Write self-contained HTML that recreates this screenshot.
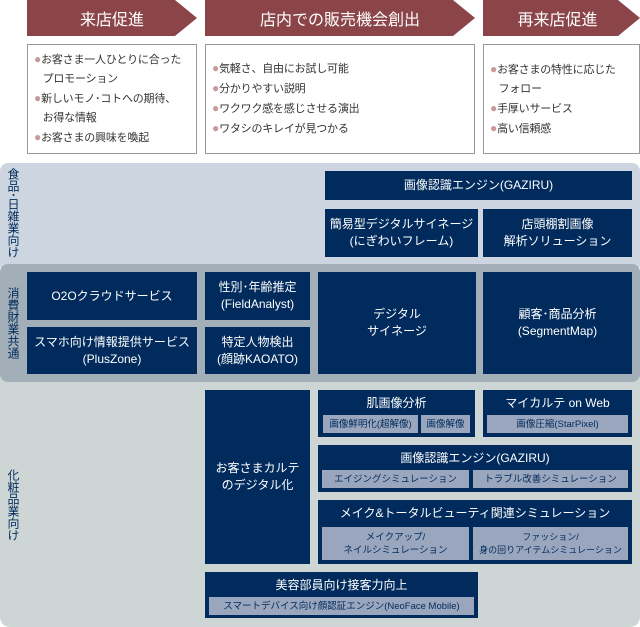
<!DOCTYPE html>
<html><head><meta charset="utf-8"><style>
*{margin:0;padding:0;box-sizing:border-box}
body{width:640px;height:627px;position:relative;background:#fff;font-family:"Liberation Sans","Noto Sans CJK JP",sans-serif;overflow:hidden}
.a{position:absolute}
.hd{background:#8b4448;color:#fff;font-size:16px;display:flex;align-items:center;justify-content:center;height:36px;top:0;clip-path:polygon(0 0,calc(100% - 22px) 0,100% 50%,calc(100% - 22px) 100%,0 100%)}
.bx{border:1px solid #999;background:#fff;font-size:11px;color:#333;line-height:19px;padding-left:6px;display:flex;flex-direction:column;justify-content:center;letter-spacing:-0.2px}
.bx span{color:#c99a9c;font-size:12px}
.n{background:#002b5c;color:#fff;font-size:12px;display:flex;flex-direction:column;align-items:center;justify-content:center;text-align:center;line-height:17px}
.s{background:#9aa6bd;color:#002b5c;font-size:9.5px;display:flex;align-items:center;justify-content:center;text-align:center;line-height:13px;white-space:nowrap}
.t{color:#002b5c;font-size:12px;writing-mode:vertical-rl;line-height:14px;left:6px}
</style></head><body>
<div class="a hd" style="left:27px;width:170px">来店促進</div>
<div class="a hd" style="left:205px;width:270px">店内での販売機会創出</div>
<div class="a hd" style="left:483px;width:157px;padding-right:8px">再来店促進</div>
<div class="a bx" style="left:27px;top:44px;width:170px;height:110px"><div><span>●</span>お客さま一人ひとりに合った</div><div>&nbsp;&nbsp;&nbsp;プロモーション</div><div><span>●</span>新しいモノ･コトへの期待、</div><div>&nbsp;&nbsp;&nbsp;お得な情報</div><div><span>●</span>お客さまの興味を喚起</div></div>
<div class="a bx" style="left:205px;top:44px;width:270px;height:110px"><div><span>●</span>気軽さ、自由にお試し可能</div><div><span>●</span>分かりやすい説明</div><div><span>●</span>ワクワク感を感じさせる演出</div><div><span>●</span>ワタシのキレイが見つかる</div></div>
<div class="a bx" style="left:483px;top:44px;width:157px;height:110px"><div><span>●</span>お客さまの特性に応じた</div><div>&nbsp;&nbsp;&nbsp;フォロー</div><div><span>●</span>手厚いサービス</div><div><span>●</span>高い信頼感</div></div>

<div class="a" style="left:0;top:163px;width:640px;height:110px;background:#cdd5e0;border-radius:8px"></div>
<div class="a" style="left:0;top:372px;width:640px;height:255px;background:#cdd6d4;border-radius:0 0 10px 10px"></div>
<div class="a" style="left:0;top:264px;width:640px;height:118px;background:#a3afb8;border-radius:8px"></div>

<div class="a t" style="top:168px">食品･日雑業向け</div>
<div class="a t" style="top:287px">消費財業共通</div>
<div class="a t" style="top:469px">化粧品業向け</div>

<div class="a n" style="left:325px;top:171px;width:307px;height:29px">画像認識エンジン(GAZIRU)</div>
<div class="a n" style="left:325px;top:209px;width:153px;height:48px">簡易型デジタルサイネージ<br>(にぎわいフレーム)</div>
<div class="a n" style="left:483px;top:209px;width:149px;height:48px">店頭棚割画像<br>解析ソリューション</div>

<div class="a n" style="left:27px;top:272px;width:170px;height:48px">O2Oクラウドサービス</div>
<div class="a n" style="left:27px;top:327px;width:170px;height:47px">スマホ向け情報提供サービス<br>(PlusZone)</div>
<div class="a n" style="left:205px;top:272px;width:105px;height:48px">性別･年齢推定<br>(FieldAnalyst)</div>
<div class="a n" style="left:205px;top:327px;width:105px;height:47px">特定人物検出<br>(顔跡KAOATO)</div>
<div class="a n" style="left:318px;top:272px;width:158px;height:102px">デジタル<br>サイネージ</div>
<div class="a n" style="left:483px;top:272px;width:149px;height:102px">顧客･商品分析<br>(SegmentMap)</div>

<div class="a n" style="left:205px;top:390px;width:105px;height:174px">お客さまカルテ<br>のデジタル化</div>
<div class="a n" style="left:318px;top:390px;width:157px;height:47px;justify-content:flex-start;padding-top:5px">肌画像分析</div>
<div class="a s" style="left:323px;top:415px;width:95px;height:18px">画像鮮明化(超解像)</div>
<div class="a s" style="left:421px;top:415px;width:49px;height:18px">画像解像</div>
<div class="a n" style="left:483px;top:390px;width:149px;height:47px;justify-content:flex-start;padding-top:5px">マイカルテ on Web</div>
<div class="a s" style="left:487px;top:415px;width:141px;height:18px">画像圧縮(StarPixel)</div>
<div class="a n" style="left:318px;top:445px;width:314px;height:47px;justify-content:flex-start;padding-top:5px">画像認識エンジン(GAZIRU)</div>
<div class="a s" style="left:322px;top:470px;width:147px;height:18px">エイジングシミュレーション</div>
<div class="a s" style="left:473px;top:470px;width:155px;height:18px">トラブル改善シミュレーション</div>
<div class="a n" style="left:318px;top:500px;width:314px;height:64px;justify-content:flex-start;padding-top:5px">メイク&amp;トータルビューティ関連シミュレーション</div>
<div class="a s" style="left:322px;top:527px;width:147px;height:33px">メイクアップ/<br>ネイルシミュレーション</div>
<div class="a s" style="left:473px;top:527px;width:155px;height:33px;font-size:9px">ファッション/<br>身の回りアイテムシミュレーション</div>
<div class="a n" style="left:205px;top:572px;width:273px;height:46px;justify-content:flex-start;padding-top:5px">美容部員向け接客力向上</div>
<div class="a s" style="left:209px;top:597px;width:265px;height:18px">スマートデバイス向け顔認証エンジン(NeoFace Mobile)</div>
</body></html>
